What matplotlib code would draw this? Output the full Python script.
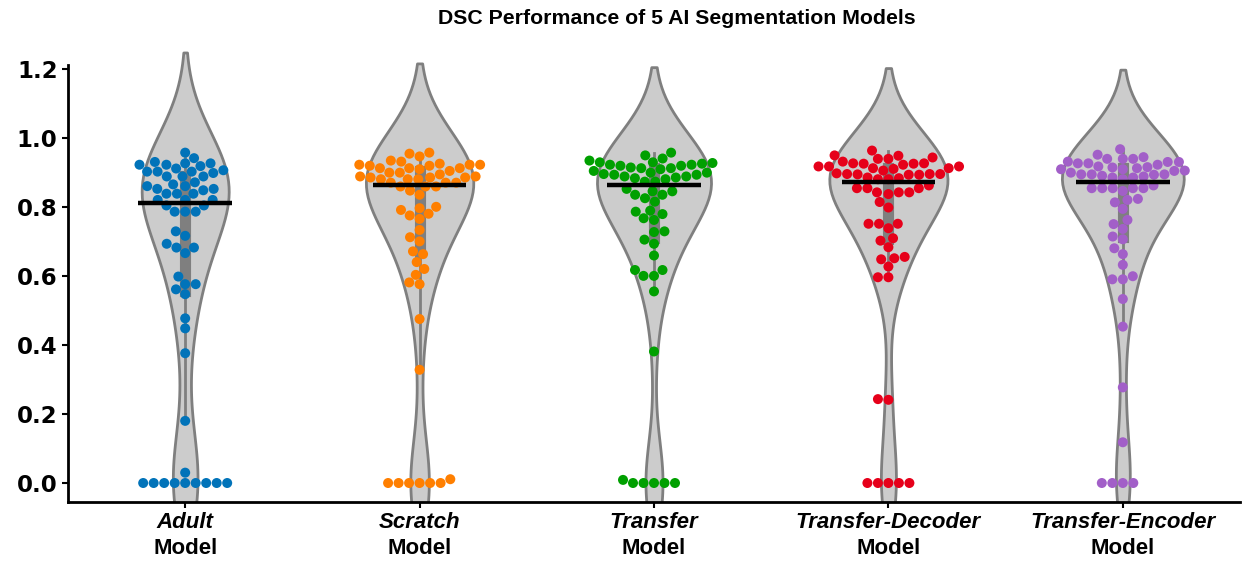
import numpy as np
import pandas as pd
import matplotlib
matplotlib.use('Agg')
import matplotlib.pyplot as plt
import matplotlib.transforms as mtransforms
import seaborn as sns

# DSC values
adult = [0, 0, 0, 0, 0, 0, 0, 0, 0, 0.030, 0.18, 0.376, 0.448, 0.477, 0.547,
         0.561, 0.576, 0.576, 0.598, 0.666, 0.682, 0.682, 0.693, 0.716, 0.729,
         0.786, 0.786, 0.786, 0.804, 0.804, 0.82, 0.82, 0.82, 0.838, 0.838,
         0.838, 0.848, 0.852, 0.852, 0.86, 0.86, 0.865, 0.871, 0.888, 0.888,
         0.888, 0.902, 0.898, 0.902, 0.906, 0.902, 0.911, 0.922, 0.918, 0.922,
         0.926, 0.930, 0.926, 0.941, 0.957]
scratch = [0, 0, 0, 0, 0, 0, 0.011, 0.328, 0.475, 0.576, 0.581, 0.603, 0.620,
           0.640, 0.663, 0.671, 0.700, 0.712, 0.733, 0.765, 0.775, 0.780, 0.791,
           0.796, 0.800, 0.835, 0.847, 0.859, 0.859, 0.859, 0.870, 0.870, 0.870,
           0.880, 0.880, 0.880, 0.885, 0.885, 0.885, 0.888, 0.888, 0.894, 0.899,
           0.899, 0.904, 0.909, 0.912, 0.912, 0.912, 0.919, 0.919, 0.922, 0.922,
           0.922, 0.925, 0.931, 0.934, 0.946, 0.954, 0.957]
transfer = [0, 0, 0, 0, 0, 0.009, 0.381, 0.555, 0.600, 0.600, 0.617, 0.617,
            0.659, 0.693, 0.705, 0.727, 0.729, 0.762, 0.767, 0.779, 0.786, 0.789,
            0.815, 0.825, 0.835, 0.835, 0.845, 0.845, 0.852, 0.873, 0.873, 0.880,
            0.883, 0.885, 0.888, 0.888, 0.893, 0.893, 0.895, 0.899, 0.899, 0.904,
            0.909, 0.912, 0.912, 0.914, 0.919, 0.919, 0.922, 0.922, 0.925, 0.927,
            0.929, 0.929, 0.934, 0.940, 0.949, 0.957]
decoder = [0, 0, 0, 0, 0, 0.243, 0.241, 0.596, 0.596, 0.627, 0.648, 0.651,
           0.655, 0.683, 0.702, 0.709, 0.738, 0.751, 0.751, 0.751, 0.798, 0.814,
           0.837, 0.842, 0.842, 0.842, 0.854, 0.854, 0.854, 0.862, 0.880, 0.880,
           0.883, 0.885, 0.895, 0.895, 0.893, 0.893, 0.894, 0.895, 0.897, 0.917,
           0.917, 0.917, 0.910, 0.905, 0.912, 0.912, 0.922, 0.925, 0.926, 0.931,
           0.926, 0.925, 0.939, 0.939, 0.943, 0.949, 0.948, 0.963]
encoder = [0, 0, 0, 0, 0.118, 0.277, 0.453, 0.533, 0.590, 0.590, 0.599, 0.632,
           0.663, 0.680, 0.706, 0.714, 0.736, 0.750, 0.762, 0.794, 0.813, 0.820,
           0.823, 0.846, 0.854, 0.854, 0.854, 0.854, 0.854, 0.862, 0.880, 0.885,
           0.885, 0.890, 0.894, 0.894, 0.888, 0.893, 0.894, 0.899, 0.904, 0.915,
           0.930, 0.926, 0.922, 0.914, 0.909, 0.905, 0.909, 0.912, 0.917, 0.926,
           0.930, 0.939, 0.951, 0.939, 0.931, 0.939, 0.944, 0.967]

names = ['Adult', 'Scratch', 'Transfer', 'Transfer-Decoder', 'Transfer-Encoder']
colors = ['#0173b9', '#ff7f00', '#00a000', '#e6001a', '#a25fc8']
series = [adult, scratch, transfer, decoder, encoder]

df = pd.DataFrame({'model': np.repeat(names, [len(s) for s in series]),
                   'dsc': np.concatenate(series)})

fig = plt.figure(figsize=(12.45, 5.79), dpi=100)
ax = fig.add_axes([0.0546, 0.133, 0.9414, 0.79])

sns.violinplot(data=df, x='model', y='dsc', order=names, color='#cccccc',
               linecolor='#7f7f7f', linewidth=2, width=0.52, inner='box',
               inner_kws=dict(box_width=8, whis_width=2, color='#7f7f7f'),
               density_norm='area', ax=ax)
sns.swarmplot(data=df, x='model', y='dsc', order=names, hue='model',
              palette=colors, size=7.2, legend=False, zorder=3, ax=ax)

meds = [np.median(s) for s in series]
ax.hlines(meds, np.arange(5) - 0.2, np.arange(5) + 0.2, color='k', lw=3.2, zorder=5)

ax.set_xlim(-0.5, 4.5)
ax.set_ylim(-0.055, 1.27)
ax.spines['left'].set_bounds(-0.055, 1.212)
ax.spines['top'].set_visible(False)
ax.spines['right'].set_visible(False)
ax.spines['left'].set_linewidth(2)
ax.spines['bottom'].set_linewidth(2)
ax.set_yticks([0, 0.2, 0.4, 0.6, 0.8, 1.0, 1.2])
ax.set_yticklabels(['0.0', '0.2', '0.4', '0.6', '0.8', '1.0', '1.2'],
                   fontsize=16.5, fontweight='bold')
ax.tick_params(width=1.5, length=4)
ax.set_xticks(range(5))
ax.set_xticklabels([])
ax.set_xlabel('')
ax.set_ylabel('')

trans = mtransforms.blended_transform_factory(ax.transData, fig.transFigure)
for i, n in enumerate(names):
    ax.text(i, 1 - 523 / 579, n, transform=trans, ha='center', va='center',
            fontsize=16, fontweight='bold', fontstyle='italic', family='Liberation Sans')
    ax.text(i, 1 - 549 / 579, 'Model', transform=trans, ha='center', va='center',
            fontsize=16, fontweight='bold', family='Liberation Sans')

fig.text(677 / 1245, 1 - 18 / 579, 'DSC Performance of 5 AI Segmentation Models',
         ha='center', va='center', fontsize=15.3, fontweight='bold', family='Liberation Sans')

fig.savefig('out.png', dpi=100)
